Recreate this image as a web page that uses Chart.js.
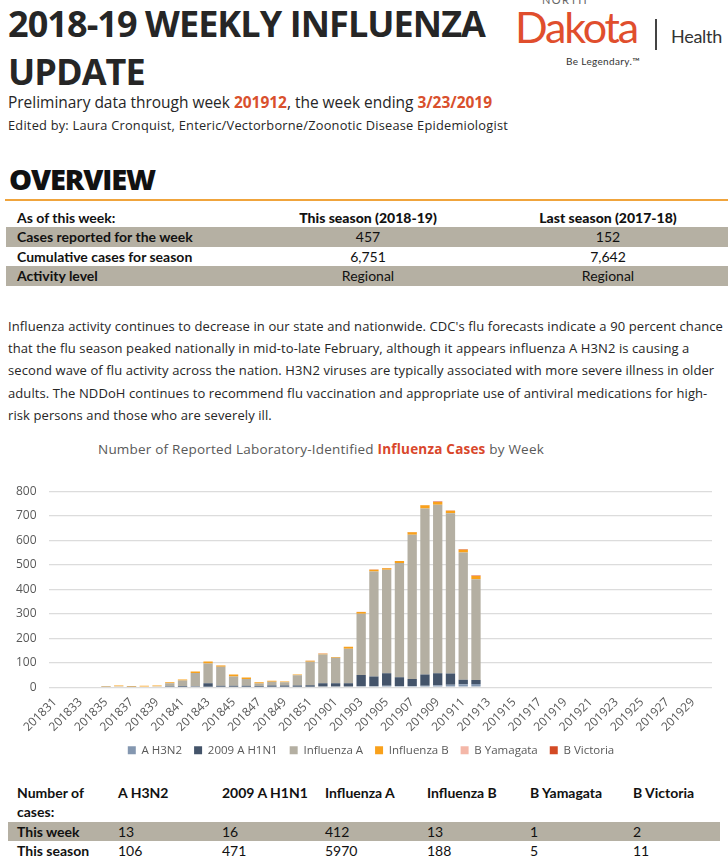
<!DOCTYPE html>
<html>
<head>
<meta charset="utf-8">
<script src="https://cdn.jsdelivr.net/npm/chart.js@4.4.1/dist/chart.umd.min.js"></script>
<style>
  body { margin: 0; width: 728px; height: 866px; position: relative; overflow: hidden; background: #fff; font-family: "Open Sans", sans-serif; color: #262626; }
  .t { position: absolute; white-space: nowrap; }
  .hl { color: #d9502d; font-weight: 700; }
  .tbl { font-family: Lato, sans-serif; font-size: 14px; color: #111; }
  .row { position: absolute; left: 6px; width: 722px; height: 20px; line-height: 20px; }
  .grey { background: #b5b0a3; }
  .row span { position: absolute; top: 0; white-space: nowrap; }
  .c2 { left: 362px; width: 0; text-align: center; }
  .c2 b, .c2 i { font-style: normal; position: absolute; white-space: nowrap; transform: translateX(-50%); }
  #para div { position: absolute; left: 8px; white-space: nowrap; }
  .brow { position: absolute; left: 8px; width: 712px; height: 19px; line-height: 19px; }
  .brow span { position: absolute; top: 0; white-space: nowrap; }
</style>
</head>
<body>

<div class="t" id="title1" style="left:8px;top:0;font-size:36px;line-height:48px;font-weight:700;">2018-19 WEEKLY INFLUENZA</div>
<div class="t" id="title2" style="left:8px;top:48px;font-size:36px;line-height:48px;font-weight:700;">UPDATE</div>

<!-- logo -->
<div class="t" id="north" style="left:542px;top:-6px;font-family:Lato;font-size:11px;line-height:12px;color:#666;">NORTH</div>
<div class="t" id="dakota" style="left:515px;top:5px;font-family:Lato;font-size:43px;line-height:44px;color:#e04e2d;">Dakota</div>
<div style="position:absolute;left:655px;top:19px;width:1.5px;height:31px;background:#444;"></div>
<div class="t" id="health" style="left:671px;top:26px;font-family:Lato;font-size:18px;line-height:20px;color:#333;">Health</div>
<div class="t" id="legend" style="left:566px;top:55px;font-family:Lato;font-size:10px;line-height:12px;color:#333;">Be Legendary.™</div>

<div class="t" id="prelim" style="left:8px;top:92px;font-size:15.5px;line-height:20px;">Preliminary data through week <span class="hl">201912</span>, the week ending <span class="hl">3/23/2019</span></div>
<div class="t" id="edited" style="left:8px;top:117px;font-size:12.8px;line-height:16px;">Edited by: Laura Cronquist, Enteric/Vectorborne/Zoonotic Disease Epidemiologist</div>

<div class="t" id="overview" style="left:9px;top:164px;font-size:29px;line-height:30px;font-weight:800;color:#111;">OVERVIEW</div>
<div style="position:absolute;left:5px;top:199px;width:723px;height:1.5px;background:#f0a43c;"></div>

<div class="tbl">
  <div class="row" style="top:208px;font-weight:700;">
    <span style="left:11px;">As of this week:</span>
    <span class="c2"><b>This season (2018-19)</b></span>
    <span class="c2" style="left:602px;"><b>Last season (2017-18)</b></span>
  </div>
  <div class="row grey" style="top:227px;">
    <span style="left:11px;font-weight:700;">Cases reported for the week</span>
    <span class="c2"><i>457</i></span>
    <span class="c2" style="left:602px;"><i>152</i></span>
  </div>
  <div class="row" style="top:247px;">
    <span style="left:11px;font-weight:700;">Cumulative cases for season</span>
    <span class="c2"><i>6,751</i></span>
    <span class="c2" style="left:602px;"><i>7,642</i></span>
  </div>
  <div class="row grey" style="top:266px;">
    <span style="left:11px;font-weight:700;">Activity level</span>
    <span class="c2"><i>Regional</i></span>
    <span class="c2" style="left:602px;"><i>Regional</i></span>
  </div>
</div>

<div id="para" style="position:absolute;left:0;top:315px;font-size:13px;line-height:22.2px;">
  <div id="p1" style="top:0;">Influenza activity continues to decrease in our state and nationwide. CDC's flu forecasts indicate a 90 percent chance</div>
  <div style="top:22.2px;">that the flu season peaked nationally in mid-to-late February, although it appears influenza A H3N2 is causing a</div>
  <div style="top:44.4px;">second wave of flu activity across the nation. H3N2 viruses are typically associated with more severe illness in older</div>
  <div style="top:66.6px;">adults. The NDDoH continues to recommend flu vaccination and appropriate use of antiviral medications for high-</div>
  <div style="top:88.8px;">risk persons and those who are severely ill.</div>
</div>

<div class="t" id="ctitle" style="left:98px;top:440px;font-size:13.5px;line-height:18px;color:#595959;">Number of Reported Laboratory-Identified <span style="color:#d9472b;font-weight:700;">Influenza Cases</span> by Week</div>

<div style="position:absolute;left:0;top:472px;width:728px;height:294px;">
  <canvas id="chartFlu"></canvas>
</div>

<div class="tbl" style="font-size:14px;">
  <div class="brow" style="top:783px;font-weight:700;">
    <span style="left:9px;">Number of</span>
    <span style="left:110px;">A H3N2</span>
    <span style="left:214px;">2009 A H1N1</span>
    <span style="left:317px;">Influenza A</span>
    <span style="left:419px;">Influenza B</span>
    <span style="left:522px;">B Yamagata</span>
    <span style="left:625px;">B Victoria</span>
  </div>
  <div class="brow" style="top:802px;font-weight:700;"><span style="left:9px;">cases:</span></div>
  <div class="brow grey" style="top:822px;">
    <span style="left:9px;font-weight:700;">This week</span>
    <span style="left:110px;">13</span>
    <span style="left:214px;">16</span>
    <span style="left:317px;">412</span>
    <span style="left:419px;">13</span>
    <span style="left:522px;">1</span>
    <span style="left:625px;">2</span>
  </div>
  <div class="brow" style="top:841px;">
    <span style="left:9px;font-weight:700;">This season</span>
    <span style="left:110px;">106</span>
    <span style="left:214px;">471</span>
    <span style="left:317px;">5970</span>
    <span style="left:419px;">188</span>
    <span style="left:522px;">5</span>
    <span style="left:625px;">11</span>
  </div>
</div>

<script>
// weeks shown on the chart
const weeks = [
    "201831", "201832", "201833", "201834", "201835", "201836", "201837", "201838",
    "201839", "201840", "201841", "201842", "201843", "201844", "201845", "201846",
    "201847", "201848", "201849", "201850", "201851", "201852",
    "201901", "201902", "201903", "201904", "201905", "201906", "201907", "201908",
    "201909", "201910", "201911", "201912", "201913", "201914", "201915", "201916",
    "201917", "201918", "201919", "201920", "201921", "201922", "201923", "201924",
    "201925", "201926", "201927", "201928", "201929", "201930"
];

// cases per week, by type
const aH3N2 = [0, 0, 0, 0, 0, 0, 0, 0, 0, 1, 2, 3, 2, 2, 2, 2, 2, 2, 2, 2, 2, 3,
    3, 3, 4, 4, 6, 5, 5, 6, 8, 10, 12, 13, 0, 0, 0, 0, 0, 0, 0, 0, 0, 0, 0, 0, 0, 0, 0, 0, 0, 0];
const aH1N1 = [0, 0, 0, 0, 0, 0, 0, 0, 0, 1, 3, 2, 14, 4, 4, 4, 3, 5, 5, 5, 6, 13,
    13, 13, 46, 40, 51, 36, 28, 46, 49, 46, 18, 16, 0, 0, 0, 0, 0, 0, 0, 0, 0, 0, 0, 0, 0, 0, 0, 0, 0, 0];
const fluA = [0, 0, 0, 0, 1, 4, 1, 3, 4, 14, 22, 53, 81, 77, 38, 27, 10, 15, 13, 42, 96, 118,
    104, 141, 250, 428, 422, 466, 589, 677, 688, 654, 520, 412, 0, 0, 0, 0, 0, 0, 0, 0, 0, 0, 0, 0, 0, 0, 0, 0, 0, 0];
const fluB = [0, 0, 0, 0, 2, 3, 3, 3, 3, 4, 4, 6, 8, 6, 8, 7, 5, 4, 3, 3, 4, 3,
    3, 8, 7, 7, 7, 8, 10, 14, 11, 10, 11, 13, 0, 0, 0, 0, 0, 0, 0, 0, 0, 0, 0, 0, 0, 0, 0, 0, 0, 0];
const bYamagata = [0, 0, 0, 0, 0, 0, 0, 0, 0, 0, 0, 0, 0, 1, 0, 0, 0, 0, 0, 0, 1, 0,
    0, 0, 1, 0, 0, 0, 0, 1, 0, 0, 0, 1, 0, 0, 0, 0, 0, 0, 0, 0, 0, 0, 0, 0, 0, 0, 0, 0, 0, 0];
const bVictoria = [0, 0, 0, 0, 0, 0, 0, 0, 0, 0, 0, 0, 0, 0, 0, 0, 0, 0, 0, 0, 0, 1,
    0, 0, 0, 1, 1, 0, 1, 0, 2, 1, 2, 2, 0, 0, 0, 0, 0, 0, 0, 0, 0, 0, 0, 0, 0, 0, 0, 0, 0, 0];

const seriesNames = ["A H3N2", "2009 A H1N1", "Influenza A", "Influenza B", "B Yamagata", "B Victoria"];
const seriesColors = ["#8497b0", "#44546a", "#b4afa2", "#f9a11b", "#f4b7a8", "#d34a24"];

// squeeze/stretch a line of text to the width it has in the reference
const fit = (id, width) => {
    const el = document.getElementById(id);
    const cur = el.getBoundingClientRect().width;
    const ls = (width - cur) / el.textContent.length;
    el.style.letterSpacing = ls + "px";
    return ls;
};

const lsTitle = fit("title1", 477);
document.getElementById("title2").style.letterSpacing = lsTitle + "px";
fit("north", 46);
fit("dakota", 122);
fit("health", 51);
fit("legend", 74);
fit("prelim", 484);
fit("edited", 500);
fit("overview", 146);
const lsPara = fit("p1", 715);
document.querySelectorAll("#para div").forEach(d => d.style.letterSpacing = lsPara + "px");
fit("ctitle", 446);

Chart.defaults.font.family = "'Open Sans', sans-serif";
Chart.defaults.color = "#595959";

// legend in the reference sits a little right of the canvas centre
const legendShift = {
    id: "legendShift",
    afterLayout: chart => {
        chart.legend.left += 13;
        chart.legend.right += 13;
    }
};

const chartFlu = document.getElementById("chartFlu");
const datasets = [aH3N2, aH1N1, fluA, fluB, bYamagata, bVictoria].map((data, i) => ({
    label: seriesNames[i],
    data: data,
    backgroundColor: seriesColors[i],
    barPercentage: 0.73,
    categoryPercentage: 1
}));

new Chart(chartFlu, {
    type: "bar",
    data: { labels: weeks, datasets: datasets },
    plugins: [legendShift],
    options: {
        responsive: true,
        maintainAspectRatio: false,
        animation: false,
        layout: { padding: { left: 4, right: 16, top: 0, bottom: 0 } },
        plugins: {
            legend: {
                position: "bottom",
                labels: { boxWidth: 8, boxHeight: 8, padding: 12, font: { size: 11.5 } }
            },
            tooltip: { enabled: false }
        },
        scales: {
            x: {
                stacked: true,
                grid: { display: false, drawTicks: false },
                border: { display: false },
                ticks: {
                    autoSkip: false,
                    minRotation: 45,
                    maxRotation: 45,
                    padding: 8,
                    font: { size: 12 },
                    callback: (v, i) => (i % 2 === 0 ? weeks[i] : "")
                },
                // the rotated labels leave empty room under them; let the legend sit closer
                afterFit: scale => { scale.height -= 10; }
            },
            y: {
                stacked: true,
                min: 0,
                max: 800,
                ticks: { stepSize: 100, padding: 12, font: { size: 12 } },
                grid: { color: "#dcdcdc", lineWidth: 1.3, drawTicks: false },
                border: { display: false }
            }
        }
    }
});
</script>
</body>
</html>
